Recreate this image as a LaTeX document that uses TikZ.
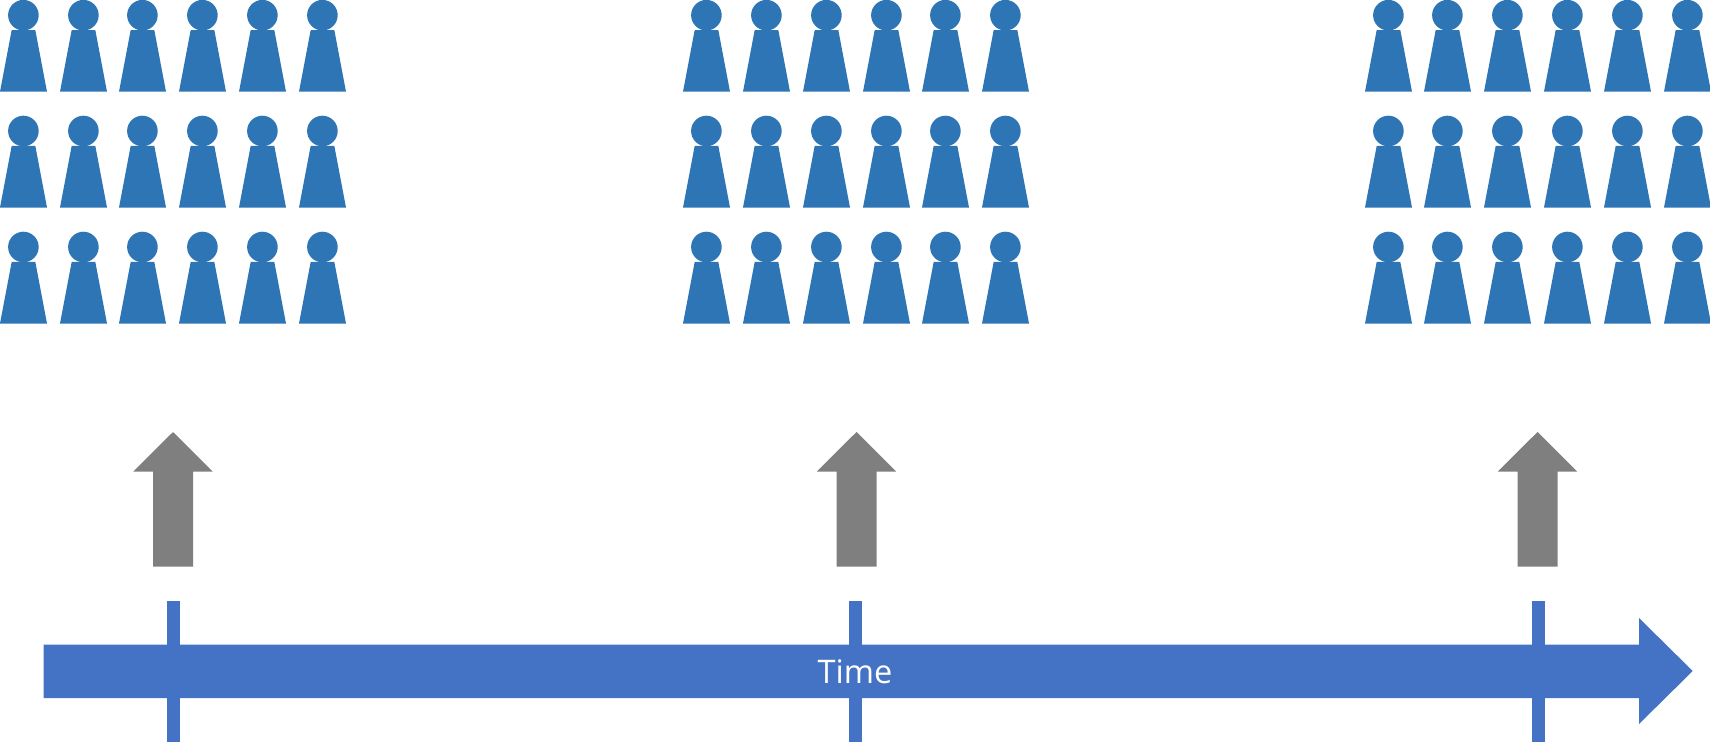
\documentclass[tikz,border=0pt]{standalone}
\usepackage{fontspec}
\setmainfont{Open Sans}
\definecolor{personblue}{HTML}{2E75B6}
\definecolor{axisblue}{HTML}{4472C4}
\definecolor{arrowgrey}{HTML}{7F7F7F}
\tikzset{
  person/.style={fill=personblue,draw=none},
  axis/.style={fill=axisblue,draw=none},
  uparrow/.style={fill=arrowgrey,draw=none},
  pawn/.pic={
    \fill[person] (23.4,15.2) circle[radius=15.3];
    \fill[person] (11.7,30) -- (35.3,30) -- (47,91.7) -- (0,91.7) -- cycle;
  },
  bigarrow/.pic={
    \fill[uparrow] (-20,134.7) -- (20,134.7) -- (20,39.5) -- (39.7,39.5) -- (0,0) -- (-39.7,39.5) -- (-20,39.5) -- cycle;
  }
}
\begin{document}
\begin{tikzpicture}[x=1pt,y=-1pt]
  \useasboundingbox (0,0) rectangle (1710,742);
  \foreach \ry in {0,115.8,231.8}{
    \foreach \px in {0,60,119,179,239,299,683,743,803,863,922,982,1365,1424,1484,1544,1604,1664}{
      \pic at (\px,\ry) {pawn};
    }
  }
  \pic at (173,432) {bigarrow};
  \pic at (856.5,432) {bigarrow};
  \pic at (1537.5,432) {bigarrow};
  \fill[axis] (43.6,644.5) -- (1639,644.5) -- (1639,618) -- (1692.7,671) -- (1639,724) -- (1639,698) -- (43.6,698) -- cycle;
  \foreach \tx in {167,849,1532}{
    \fill[axis] (\tx,601) rectangle ++(12.7,141);
  }
  \node[text=white,inner sep=0pt,font=\fontsize{32.5}{36}\selectfont] (timelabel) at (855,672) {Time};
\end{tikzpicture}
\end{document}
